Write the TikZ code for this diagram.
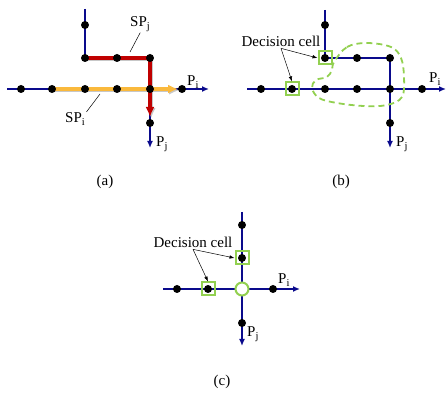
\documentclass[tikz,border=0pt]{standalone}
\usepackage{fontspec}
\setmainfont{Liberation Serif}
\usetikzlibrary{arrows.meta}

\definecolor{roadblue}{RGB}{10,10,140}
\definecolor{spred}{RGB}{192,0,0}
\definecolor{sporange}{RGB}{250,185,60}
\definecolor{cellgreen}{RGB}{146,208,80}

\begin{document}
\begin{tikzpicture}[
    x=1pt, y=-1pt, % work in pixel units, y downwards
    >=Latex, % Set default arrow tip style
    font=\fontsize{15}{18}\selectfont,
    road/.style={roadblue, line width=1.8pt, -{Latex[length=7pt,width=6pt]}}, % lanes P_i, P_j
    dot/.style={fill=black, circle, inner sep=0pt, minimum size=8pt}, % cells
    cell/.style={draw=cellgreen, line width=2pt, minimum size=13pt, inner sep=0pt}, % decision cell
    ring/.style={draw=cellgreen, fill=white, circle, line width=2pt, minimum size=13pt, inner sep=0pt},
    sp/.style={line width=3.5pt, -{Latex[length=10pt,width=9pt]},
        preaction={draw=black!22, line width=4.5pt, transform canvas={shift={(1.2pt,-1.2pt)}}}}, % shortest path
    blob/.style={cellgreen, line width=1.8pt, dash pattern=on 6pt off 4pt},
    lab/.style={inner sep=1pt},
    hint/.style={black, line width=0.5pt},
    pointer/.style={black, line width=0.5pt, -{Latex[length=5pt,width=3.5pt]}}
]
    \useasboundingbox (0,0) rectangle (448,395);

    % ---------- (a) ----------
    \coordinate (a-w) at (7,89);    % west end of P_i
    \coordinate (a-e) at (209,89);  % east end of P_i
    \coordinate (a-n) at (85,9);    % north end of P_j
    \coordinate (a-s) at (150,148); % south end of P_j
    \coordinate (a1) at (21,89);  \coordinate (a2) at (52,89);  \coordinate (a3) at (85,89);
    \coordinate (a4) at (117,89); \coordinate (a5) at (150,89); \coordinate (a6) at (182,89);
    \coordinate (a7) at (85,25);  \coordinate (a8) at (85,58);  \coordinate (a9) at (117,58);
    \coordinate (a10) at (150,58); \coordinate (a11) at (150,123);
    \coordinate (a-tipi) at (178,89);  % tip of SP_i
    \coordinate (a-tipj) at (150,117); % tip of SP_j

    \draw[road] (a-w) -- (a-e);
    \draw[road] (a-n) -- (a8) -- (a10) -- (a-s);
    \draw[sp, sporange] (a2) -- (a-tipi);
    \draw[sp, spred] (a8) -- (a10) -- (a-tipj);

    \node[dot] at (a1) {}; \node[dot] at (a2) {}; \node[dot] at (a3) {};
    \node[dot] at (a4) {}; \node[dot] at (a5) {}; \node[dot] at (a6) {};
    \node[dot] at (a7) {}; \node[dot] at (a8) {}; \node[dot] at (a9) {};
    \node[dot] at (a10) {}; \node[dot] at (a11) {};

    \node[lab, anchor=base west] (a-pi) at (186,86) {P\textsubscript{i}};
    \node[lab, anchor=base west] (a-pj) at (155,147) {P\textsubscript{j}};
    \node[lab, anchor=base west] (a-spj) at (129,27) {SP\textsubscript{j}};
    \node[lab, anchor=base west] (a-spi) at (64,123) {SP\textsubscript{i}};
    \coordinate (a-hj) at (130,52);
    \coordinate (a-hi) at (100,94);
    \draw[hint] (a-spj.south) -- (a-hj);
    \draw[hint] (a-spi.north east) -- (a-hi);
    \node (a-cap) at (105,182) {(a)};

    % ---------- (b) ----------
    \coordinate (b-w) at (247,89);
    \coordinate (b-e) at (446,89);
    \coordinate (b-n) at (325,10);
    \coordinate (b-s) at (390,148);
    \coordinate (b1) at (261,89); \coordinate (b2) at (292,89); \coordinate (b3) at (325,89);
    \coordinate (b4) at (357,89); \coordinate (b5) at (390,89); \coordinate (b6) at (422,89);
    \coordinate (b7) at (325,25); \coordinate (b8) at (325,58); \coordinate (b9) at (357,58);
    \coordinate (b10) at (390,58); \coordinate (b11) at (390,123);

    \draw[road] (b-w) -- (b-e);
    \draw[road] (b-n) -- (b8) -- (b10) -- (b-s);
    % conflict area
    \draw[blob] plot[smooth cycle, tension=0.6] coordinates {(334,62) (347,47) (367,43) (391,47) (401,58)
        (404,77) (402,97) (387,105) (364,106) (337,103) (319,98) (312,88) (316,80) (327,77) (332,70)};

    \node[cell] (b-c1) at (b8) {};
    \node[cell] (b-c2) at (b2) {};
    \node[dot] at (b1) {}; \node[dot] at (b2) {}; \node[dot] at (b3) {};
    \node[dot] at (b4) {}; \node[dot] at (b5) {}; \node[dot] at (b6) {};
    \node[dot] at (b7) {}; \node[dot] at (b8) {}; \node[dot] at (b9) {};
    \node[dot] at (b10) {}; \node[dot] at (b11) {};

    \node[lab, anchor=base west] (b-pi) at (428,83) {P\textsubscript{i}};
    \node[lab, anchor=base west] (b-pj) at (395,147) {P\textsubscript{j}};
    \node[lab, anchor=base] (b-dc) at (281,47) {Decision cell};
    \draw[pointer] (b-dc.south) -- (b-c1.west);
    \draw[pointer] (b-dc.south) -- (b-c2.north);
    \node (b-cap) at (341,182) {(b)};

    % ---------- (c) ----------
    \coordinate (c-w) at (163,289);
    \coordinate (c-e) at (300,289);
    \coordinate (c-n) at (242,212);
    \coordinate (c-s) at (242,346);
    \coordinate (c0) at (242,289); % crossing
    \coordinate (c1) at (177,289); \coordinate (c2) at (208,289); \coordinate (c3) at (273,289);
    \coordinate (c4) at (242,225); \coordinate (c5) at (242,258); \coordinate (c6) at (242,323);

    \draw[road] (c-w) -- (c-e);
    \draw[road] (c-n) -- (c-s);

    \node[ring] (c-r) at (c0) {};
    \node[cell] (c-c1) at (c5) {};
    \node[cell] (c-c2) at (c2) {};
    \node[dot] at (c1) {}; \node[dot] at (c2) {}; \node[dot] at (c3) {};
    \node[dot] at (c4) {}; \node[dot] at (c5) {}; \node[dot] at (c6) {};

    \node[lab, anchor=base west] (c-pi) at (277,284) {P\textsubscript{i}};
    \node[lab, anchor=base west] (c-pj) at (246,337) {P\textsubscript{j}};
    \node[lab, anchor=base] (c-dc) at (193,248) {Decision cell};
    \draw[pointer] (c-dc.south) -- (c-c1.west);
    \draw[pointer] (c-dc.south) -- (c-c2.north);
    \node (c-cap) at (222,382) {(c)};

\end{tikzpicture}
\end{document}
